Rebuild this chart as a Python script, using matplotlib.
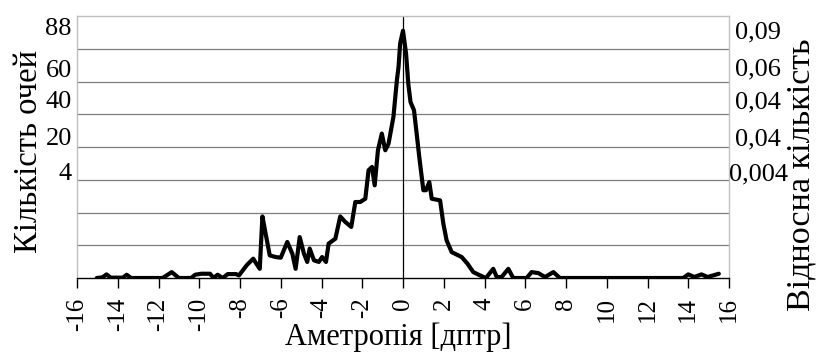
import matplotlib
matplotlib.use("Agg")
import matplotlib.pyplot as plt

# Data (y in chart grid units, 0..8)
ametropia = [-15.03, -14.75, -14.55, -14.35, -13.75, -13.56, -13.35, -11.8, -11.35, -11.0,
             -10.4, -10.2, -9.9, -9.47, -9.3, -9.1, -8.85, -8.6, -8.2, -8.05,
             -7.67, -7.35, -7.2, -7.03, -6.9, -6.74, -6.54, -6.25, -6.0, -5.68,
             -5.43, -5.27, -5.07, -4.86, -4.7, -4.58, -4.37, -4.13, -3.97, -3.78,
             -3.65, -3.32, -3.08, -2.83, -2.54, -2.34, -2.1, -1.85, -1.69, -1.52,
             -1.39, -1.23, -1.04, -0.87, -0.71, -0.47, -0.3, -0.22, -0.14, 0.0,
             0.15, 0.26, 0.37, 0.54, 0.67, 0.8, 0.92, 1.0, 1.13, 1.29,
             1.41, 1.82, 1.98, 2.14, 2.39, 2.88, 3.16, 3.45, 3.78, 4.07,
             4.43, 4.6, 4.84, 5.17, 5.41, 6.07, 6.31, 6.64, 6.97, 7.38,
             7.7, 13.75, 14.0, 14.3, 14.65, 14.95, 15.5]
eyes = [0.0, 0.02, 0.11, 0.01, 0.01, 0.1, 0.0, 0.0, 0.18, 0.0,
        0.0, 0.1, 0.13, 0.13, 0.0, 0.1, 0.0, 0.12, 0.12, 0.08,
        0.39, 0.59, 0.44, 0.28, 1.88, 1.35, 0.69, 0.64, 0.62, 1.1,
        0.74, 0.28, 1.25, 0.74, 0.49, 0.9, 0.54, 0.49, 0.64, 0.49,
        1.05, 1.2, 1.88, 1.71, 1.56, 2.32, 2.32, 2.42, 3.29, 3.39,
        2.83, 3.9, 4.41, 3.9, 4.1, 4.92, 6.04, 6.44, 7.16, 7.55,
        6.85, 5.93, 5.37, 5.12, 4.41, 3.69, 3.08, 2.68, 2.68, 2.93,
        2.42, 2.37, 1.66, 1.15, 0.79, 0.64, 0.44, 0.18, 0.08, 0.0,
        0.28, 0.03, 0.03, 0.28, 0.0, 0.0, 0.18, 0.15, 0.03, 0.18,
        0.0, 0.0, 0.11, 0.03, 0.11, 0.03, 0.13]

x_ticks = list(range(-16, 17, 2))
left_labels = ["88", "60", "40", "20", "4"]
left_label_base_px = [35, 77, 108, 145, 180]
right_labels = ["0,09", "0,06", "0,04", "0,04", "0,004"]
right_label_base_px = [38, 75, 108, 145, 180]

W, H = 816, 353
plt.rcParams['font.family'] = ['Liberation Serif', 'DejaVu Serif']
fig = plt.figure(figsize=(W / 100, H / 100), dpi=100)
ax = fig.add_axes([77 / W, 1 - 278 / H, (729 - 77) / W, (278 - 16) / H])

ax.set_xlim(-16, 16)
ax.set_ylim(0, 8)
for g in range(1, 8):
    ax.axhline(g, color='#7f7f7f', lw=0.9, zorder=1)
ax.axvline(0, color='black', lw=0.9, zorder=2)
ax.plot(ametropia, eyes, color='black', lw=3.0, solid_joinstyle='round',
        solid_capstyle='round', zorder=3)

for s in ['left', 'top', 'right']:
    ax.spines[s].set_color('#c0c0c0')
    ax.spines[s].set_linewidth(1.0)
ax.spines['bottom'].set_color('black')
ax.spines['bottom'].set_linewidth(1.0)

ax.set_yticks([])
ax.set_xticks(x_ticks)
ax.set_xticklabels([str(t) for t in x_ticks], rotation=90, fontsize=18)
ax.tick_params(axis='x', direction='out', length=7, width=1, pad=7)

fig.text(398 / W, 1 - 345 / H, "Аметропія [дптр]", ha='center', va='baseline', fontsize=22)

for lab, py in zip(left_labels, left_label_base_px):
    fig.text(72 / W, 1 - py / H, lab, ha='right', va='baseline', fontsize=19)
for lab, py in zip(right_labels, right_label_base_px):
    fig.text(758 / W, 1 - py / H, lab, ha='center', va='baseline', fontsize=19)

fig.text(37 / W, 1 - 151 / H, "Кількість очей", rotation=90, rotation_mode='anchor',
         ha='center', va='baseline', fontsize=23.5)
fig.text(809 / W, 1 - 175 / H, "Відносна кількість", rotation=90, rotation_mode='anchor',
         ha='center', va='baseline', fontsize=24.5)

fig.savefig("out.png", dpi=100)
